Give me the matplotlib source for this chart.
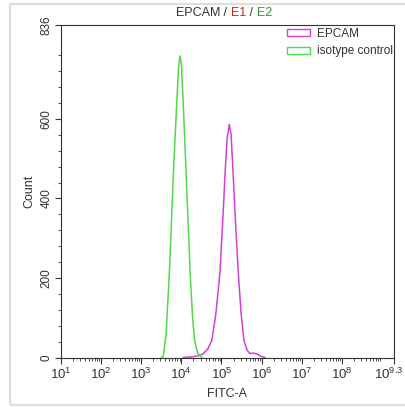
import numpy as np
import matplotlib
matplotlib.use("Agg")
import matplotlib.pyplot as plt
import matplotlib.transforms as mtransforms
from matplotlib.patches import Rectangle
from matplotlib.ticker import FixedLocator, NullFormatter

plt.rcParams['font.family'] = ['Liberation Sans', 'DejaVu Sans']
plt.rcParams['mathtext.fontset'] = 'custom'
plt.rcParams['mathtext.rm'] = 'Liberation Sans'
plt.rcParams['mathtext.default'] = 'regular'

# -------------------- data (log10 FITC-A, count) --------------------
iso_log = [3.50, 3.55, 3.62, 3.70, 3.80, 3.88, 3.93, 3.966, 4.00, 4.05, 4.12, 4.22, 4.28, 4.33, 4.40, 4.51]
iso_cnt = [0, 3, 60, 210, 460, 630, 730, 758, 740, 630, 460, 210, 100, 43, 12, 0]

epcam_log = [4.05, 4.30, 4.45, 4.55, 4.66, 4.76, 4.86, 4.96, 5.03, 5.09, 5.14, 5.195, 5.24, 5.29, 5.35, 5.42, 5.49, 5.56, 5.64, 5.71, 5.80, 5.88, 5.96, 6.08]
epcam_cnt = [0, 2, 5, 10, 22, 43, 110, 211, 340, 463, 550, 586, 560, 463, 340, 211, 110, 43, 18, 10, 11, 9, 4, 0]

x_ticks_log = [1, 2, 3, 4, 5, 6, 7, 8, 9.3]
x_tick_labels = ['$10^{1}$', '$10^{2}$', '$10^{3}$', '$10^{4}$', '$10^{5}$',
                 '$10^{6}$', '$10^{7}$', '$10^{8}$', '$10^{9.3}$']
y_ticks = [0, 200, 400, 600, 836]
y_max = 836

GREEN = '#52d94a'
MAGENTA = '#d63fd6'

# -------------------- figure ----------------------------------------
fig = plt.figure(figsize=(4.06, 4.07), dpi=100)
ax = fig.add_axes([61/406, 1-357.5/407, 333/406, 332.5/407])

ax.plot(10**np.array(epcam_log), epcam_cnt, color=MAGENTA, lw=1.1)
ax.plot(10**np.array(iso_log), iso_cnt, color=GREEN, lw=1.1)

ax.set_xscale('log')
ax.set_xlim(10**1, 10**9.3)
ax.set_ylim(0, y_max)

ax.set_xticks([10**v for v in x_ticks_log])
ax.set_xticklabels(x_tick_labels, fontsize=9.5, color='#333333')
minor_x = [m*10**e for e in range(1, 10) for m in range(2, 10) if m*10**e < 10**9.3]
ax.xaxis.set_minor_locator(FixedLocator(minor_x))
ax.xaxis.set_minor_formatter(NullFormatter())

ax.set_yticks(y_ticks)
ax.set_yticklabels([str(v) for v in y_ticks], fontsize=8.5, color='#333333', rotation=90, va='center')
ax.yaxis.set_minor_locator(FixedLocator([v for v in range(40, 836, 40) if v % 200]))

ax.tick_params(which='major', length=4, width=0.8, color='#333333')
ax.tick_params(which='minor', length=2, width=0.6, color='#333333')
ax.tick_params(axis='x', pad=3)
ax.tick_params(axis='y', pad=2)
for s in ax.spines.values():
    s.set_color('#333333'); s.set_linewidth(0.8)

# last label sits at the figure edge, nudge it left so it is not clipped
last = ax.get_xticklabels()[-1]
last.set_transform(last.get_transform() + mtransforms.ScaledTranslation(-5/100, 0, fig.dpi_scale_trans))

ax.set_xlabel('FITC-A', fontsize=9, color='#333333', labelpad=4)
ax.set_ylabel('Count', fontsize=9, color='#333333', labelpad=4)

# legend with outlined boxes
handles = [Rectangle((0, 0), 1, 1, fill=False, ec=MAGENTA, lw=1),
           Rectangle((0, 0), 1, 1, fill=False, ec=GREEN, lw=1)]
ax.legend(handles, ['EPCAM', 'isotype control'], loc='upper left', bbox_to_anchor=(0.665, 1.005),
          frameon=False, fontsize=8.5, handlelength=1.9, handleheight=0.55,
          handletextpad=0.6, labelspacing=0.45, borderaxespad=0, labelcolor='#333333')

# multicolour title
pieces = [('EPCAM', '#333333'), (' / ', '#333333'), ('E1', '#d42020'), (' / ', '#333333'), ('E2', '#2f9a2f')]
fig.canvas.draw()
r = fig.canvas.get_renderer()
texts = [fig.text(0, 1-13/407, s, color=c, fontsize=9, va='center', ha='left') for s, c in pieces]
widths = [t.get_window_extent(r).width for t in texts]
x0 = 224 - sum(widths)/2
for t, w in zip(texts, widths):
    t.set_x(x0/406); x0 += w

# light frame around the figure
fig.add_artist(Rectangle((10/406, 2/407), 1, 401/407, transform=fig.transFigure,
                         fill=False, ec='#dedede', lw=1.5))

fig.savefig('out.png', dpi=100)
